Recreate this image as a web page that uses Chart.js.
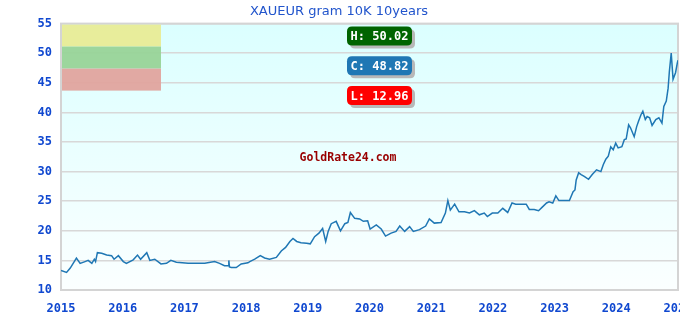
<!DOCTYPE html>
<html>
<head>
<meta charset="utf-8">
<script src="https://cdn.jsdelivr.net/npm/chart.js@4"></script>
<style>
  html, body { margin: 0; padding: 0; background: #fff; overflow: hidden; }
  #wrap { width: 680px; height: 320px; position: relative; }
</style>
</head>
<body>
<div id="wrap"><canvas id="chart" width="680" height="320"></canvas></div>
<script>
// XAUEUR price per gram, 10K (decimal year, EUR)
const years = [
  2015.00, 2015.09, 2015.15, 2015.25, 2015.31, 2015.39, 2015.44, 2015.50, 2015.54, 2015.56,
  2015.59, 2015.66, 2015.74, 2015.82, 2015.86, 2015.93, 2016.01, 2016.06, 2016.17, 2016.24,
  2016.29, 2016.39, 2016.44, 2016.52, 2016.62, 2016.71, 2016.78, 2016.87, 2017.06, 2017.20,
  2017.33, 2017.49, 2017.57, 2017.65, 2017.71, 2017.72, 2017.73, 2017.76, 2017.84, 2017.92,
  2018.03, 2018.06, 2018.14, 2018.23, 2018.30, 2018.38, 2018.49, 2018.57, 2018.64, 2018.71,
  2018.76, 2018.82, 2018.89, 2018.98, 2019.04, 2019.11, 2019.18, 2019.24, 2019.29, 2019.33,
  2019.38, 2019.46, 2019.53, 2019.60, 2019.65, 2019.69, 2019.76, 2019.84, 2019.90, 2019.97,
  2020.01, 2020.11, 2020.19, 2020.26, 2020.35, 2020.43, 2020.49, 2020.57, 2020.65, 2020.71,
  2020.81, 2020.91, 2020.97, 2021.05, 2021.16, 2021.23, 2021.27, 2021.31, 2021.38, 2021.45,
  2021.54, 2021.62, 2021.70, 2021.78, 2021.86, 2021.91, 2021.99, 2022.08, 2022.16, 2022.24,
  2022.31, 2022.37, 2022.45, 2022.54, 2022.59, 2022.67, 2022.74, 2022.80, 2022.87, 2022.91,
  2022.97, 2023.02, 2023.07, 2023.16, 2023.24, 2023.30, 2023.33, 2023.35, 2023.39, 2023.43,
  2023.48, 2023.55, 2023.61, 2023.68, 2023.75, 2023.79, 2023.83, 2023.87, 2023.91, 2023.95,
  2023.99, 2024.03, 2024.09, 2024.13, 2024.16, 2024.20, 2024.23, 2024.29, 2024.33, 2024.36,
  2024.40, 2024.43, 2024.47, 2024.50, 2024.54, 2024.58, 2024.64, 2024.69, 2024.74, 2024.77,
  2024.81, 2024.84, 2024.86, 2024.89, 2024.92, 2024.96, 2024.99, 2025.00
];
const prices = [
  13.3, 12.96, 13.7, 15.4, 14.5, 14.8, 15.0, 14.5, 15.2, 14.8,
  16.3, 16.2, 15.9, 15.8, 15.2, 15.8, 14.8, 14.5, 15.1, 15.9,
  15.2, 16.3, 15.0, 15.2, 14.4, 14.5, 15.0, 14.7, 14.5, 14.5,
  14.5, 14.8, 14.5, 14.1, 14.1, 15.0, 13.9, 13.8, 13.8, 14.4,
  14.6, 14.8, 15.2, 15.8, 15.4, 15.2, 15.5, 16.6, 17.2, 18.2,
  18.7, 18.2, 18.0, 17.9, 17.8, 19.0, 19.6, 20.4, 18.2, 19.9,
  21.2, 21.6, 20.0, 21.2, 21.4, 23.1, 22.1, 22.0, 21.6, 21.7,
  20.3, 21.0, 20.3, 19.1, 19.6, 19.9, 20.8, 19.9, 20.7, 19.9,
  20.2, 20.8, 22.0, 21.3, 21.4, 23.0, 25.1, 23.5, 24.5, 23.2,
  23.2, 23.0, 23.4, 22.7, 23.0, 22.4, 23.0, 23.0, 23.8, 23.1,
  24.7, 24.5, 24.5, 24.5, 23.6, 23.6, 23.4, 24.0, 24.7, 24.9,
  24.7, 25.9, 25.1, 25.1, 25.1, 26.6, 26.9, 28.6, 29.8, 29.5,
  29.2, 28.7, 29.5, 30.3, 30.0, 31.2, 32.1, 32.6, 34.2, 33.7,
  34.8, 34.0, 34.2, 35.4, 35.5, 37.9, 37.4, 35.9, 37.6, 38.5,
  39.6, 40.2, 38.8, 39.3, 39.1, 37.8, 38.8, 39.1, 38.2, 41.0,
  41.9, 44.1, 46.9, 50.02, 45.6, 46.7, 48.4, 48.82
];
const yTicks = [10, 15, 20, 25, 30, 35, 40, 45, 50, 55];
const xTicks = [2015, 2016, 2017, 2018, 2019, 2020, 2021, 2022, 2023, 2024, 2025];
const badges = [
  { text: 'H: 50.02', color: '#006400' },
  { text: 'C: 48.82', color: '#1f77b4' },
  { text: 'L: 12.96', color: '#ff0000' }
];
const legendColors = ['rgba(232,236,150,0.95)', 'rgba(152,212,152,0.95)', 'rgba(224,164,158,0.95)'];

const tickBlue = '#1048d0';
const monoBold = { family: '"DejaVu Sans Mono", monospace', size: 12, weight: 'bold' };

function roundRect(ctx, x, y, w, h, r) {
  ctx.beginPath();
  ctx.moveTo(x + r, y);
  ctx.lineTo(x + w - r, y);
  ctx.quadraticCurveTo(x + w, y, x + w, y + r);
  ctx.lineTo(x + w, y + h - r);
  ctx.quadraticCurveTo(x + w, y + h, x + w - r, y + h);
  ctx.lineTo(x + r, y + h);
  ctx.quadraticCurveTo(x, y + h, x, y + h - r);
  ctx.lineTo(x, y + r);
  ctx.quadraticCurveTo(x, y, x + r, y);
  ctx.closePath();
}

const decor = {
  id: 'decor',
  beforeDraw(chart) {
    const { ctx, chartArea: a } = chart;
    const g = ctx.createLinearGradient(0, a.top, 0, a.bottom);
    g.addColorStop(0, '#dbffff');
    g.addColorStop(1, '#fbffff');
    ctx.save();
    ctx.fillStyle = g;
    ctx.fillRect(a.left, a.top, a.right - a.left, a.bottom - a.top);
    ctx.restore();
  },
  beforeDatasetsDraw(chart) {
    const { ctx, chartArea: a } = chart;
    ctx.save();
    // frame
    ctx.strokeStyle = '#d4d4d4';
    ctx.lineWidth = 2;
    ctx.strokeRect(a.left, a.top, a.right - a.left, a.bottom - a.top);
    // legend boxes, top left
    const bw = 99, bh = 22;
    legendColors.forEach((c, i) => {
      ctx.fillStyle = c;
      ctx.fillRect(a.left + 1, a.top + 1 + i * bh, bw, bh);
    });
    // watermark
    ctx.fillStyle = '#990000';
    ctx.font = 'bold 11.5px "DejaVu Sans Mono", monospace';
    ctx.textAlign = 'center';
    ctx.textBaseline = 'middle';
    ctx.fillText('GoldRate24.com', a.left + 287, a.top + 134);
    ctx.restore();
  },
  afterDraw(chart) {
    const { ctx, chartArea: a } = chart;
    ctx.save();
    const bx = a.left + 286, bw = 65, bh = 19;
    ctx.font = 'bold 12px "DejaVu Sans Mono", monospace';
    ctx.textAlign = 'center';
    ctx.textBaseline = 'middle';
    badges.forEach((b, i) => {
      const by = a.top + 3 + i * 29.7;
      ctx.fillStyle = '#b8b8b8';
      roundRect(ctx, bx + 3, by + 3, bw, bh, 5);
      ctx.fill();
      ctx.fillStyle = b.color;
      roundRect(ctx, bx, by, bw, bh, 5);
      ctx.fill();
      ctx.fillStyle = '#ffffff';
      ctx.fillText(b.text, bx + bw / 2, by + bh / 2 + 1);
    });
    ctx.restore();
  }
};

const points = years.map((x, i) => ({ x: x, y: prices[i] }));

new Chart(document.getElementById('chart'), {
  type: 'line',
  data: {
    datasets: [{
      data: points,
      borderColor: '#1f77b4',
      borderWidth: 1.5,
      pointRadius: 0,
      tension: 0,
      fill: false
    }]
  },
  options: {
    responsive: false,
    animation: false,
    layout: { padding: { left: 0, right: 2, top: 0, bottom: 0 } },
    plugins: {
      legend: { display: false },
      tooltip: { enabled: false },
      title: {
        display: true,
        text: 'XAUEUR gram 10K 10years',
        color: '#2255cc',
        font: { family: '"DejaVu Sans", sans-serif', size: 13, weight: 'normal' },
        padding: { top: 4, bottom: 4 }
      }
    },
    scales: {
      x: {
        type: 'linear',
        min: 2015,
        max: 2025,
        afterBuildTicks: s => { s.ticks = xTicks.map(v => ({ value: v })); },
        afterFit: s => { s.paddingLeft = 0; s.paddingRight = 0; s.height = 30; },
        grid: { display: false },
        border: { display: true, color: '#d4d4d4', width: 2 },
        ticks: {
          color: tickBlue,
          font: monoBold,
          padding: 4,
          maxRotation: 0,
          autoSkip: false,
          callback: v => String(v)
        }
      },
      y: {
        min: 10,
        max: 55,
        afterBuildTicks: s => { s.ticks = yTicks.map(v => ({ value: v })); },
        afterFit: s => { s.width = 61; s.paddingTop = 0; s.paddingBottom = 0; },
        grid: { color: '#d8d8d8', lineWidth: 1.5, drawTicks: false },
        border: { display: true, color: '#d4d4d4', width: 2 },
        ticks: {
          color: tickBlue,
          font: monoBold,
          padding: 9,
          autoSkip: false
        }
      }
    }
  },
  plugins: [decor]
});
</script>
</body>
</html>
